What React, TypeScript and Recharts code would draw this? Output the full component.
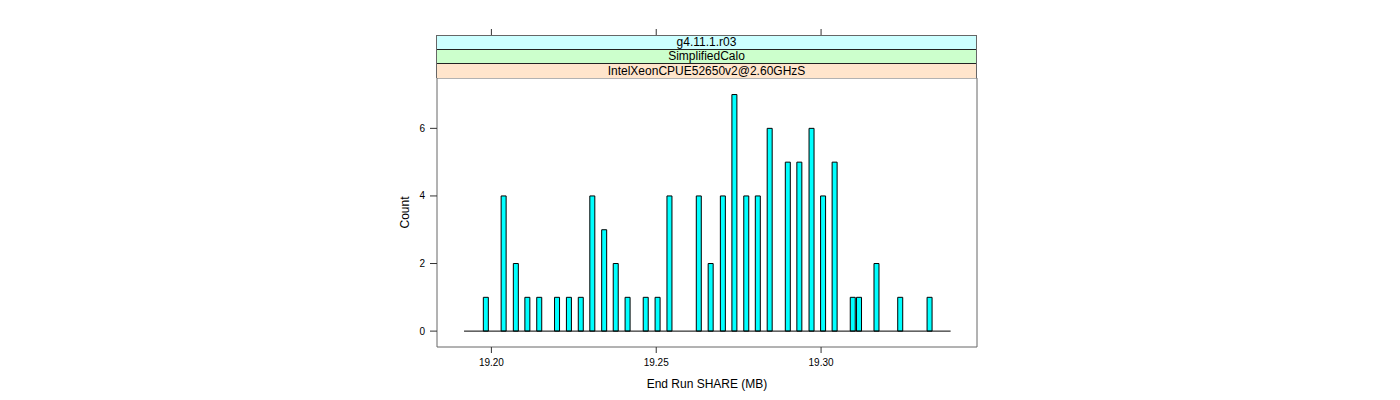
import React from 'react';
import { ComposedChart, Bar, XAxis, YAxis, ReferenceLine } from 'recharts';

// End Run SHARE (MB) values and how many runs landed on each
const shareValues = [
  19.1982, 19.2036, 19.2073, 19.2108, 19.2144, 19.2198, 19.2234, 19.227, 19.2305, 19.2341,
  19.2376, 19.2412, 19.2467, 19.2503, 19.2539, 19.2628, 19.2664, 19.2701, 19.2736, 19.2772,
  19.2807, 19.2843, 19.2898, 19.2933, 19.297, 19.3005, 19.304, 19.3095, 19.3114, 19.3167,
  19.3239, 19.3328,
];
const counts = [
  1, 4, 2, 1, 1, 1, 1, 1, 4, 3,
  2, 1, 1, 1, 4, 4, 2, 4, 7, 4,
  4, 6, 5, 5, 6, 4, 5, 1, 1, 2,
  1, 1,
];

const xTicks = [19.2, 19.25, 19.3];
const yTicks = [0, 2, 4, 6];
const xDomain = [19.1835, 19.3473];
const yDomain = [-0.47, 7.49];
const baselineRange = [19.1917, 19.3393];

const stripLabels = ['g4.11.1.r03', 'SimplifiedCalo', 'IntelXeonCPUE52650v2@2.60GHzS'];
const stripColors = ['#ccffff', '#ccffcc', '#ffe5cc'];
const stripHeights = [13, 13, 14];

const font = '"Liberation Sans", Arial, sans-serif';

const data = shareValues.map((share, i) => ({ share, count: counts[i] }));

// top axis: only the small tick marks sitting above the strips
const TopTick = (props: any) => {
  const { x, y } = props;
  return <line x1={x} x2={x} y1={y - 49} y2={y - 43} stroke="#333" />;
};

export default function App() {
  return (
    <div style={{ position: 'absolute', left: 0, top: 0, width: 1400, height: 400, background: '#fff' }}>
      <ComposedChart
        width={1400}
        height={400}
        data={data}
        margin={{ top: 38, right: 413, bottom: 23, left: 397 }}
        style={{ fontFamily: font }}
      >
        <XAxis
          xAxisId="bottom"
          dataKey="share"
          type="number"
          domain={xDomain}
          ticks={xTicks}
          tickFormatter={(v: number) => v.toFixed(2)}
          height={30}
          tickSize={6}
          tickMargin={6}
          stroke="#666"
          tick={{ fill: '#000', fontSize: 10 }}
          tickLine={{ stroke: '#333' }}
          label={{ value: 'End Run SHARE (MB)', position: 'bottom', offset: 2, fill: '#000', fontSize: 12 }}
        />
        <XAxis
          xAxisId="top"
          orientation="top"
          dataKey="share"
          type="number"
          domain={xDomain}
          ticks={xTicks}
          height={40}
          tickSize={0}
          tickMargin={0}
          stroke="#666"
          tickLine={false}
          tick={<TopTick />}
        />
        <YAxis
          yAxisId="left"
          type="number"
          domain={yDomain}
          ticks={yTicks}
          width={40}
          tickSize={7}
          tickMargin={5}
          stroke="#666"
          tick={{ fill: '#000', fontSize: 10 }}
          tickLine={{ stroke: '#333' }}
          label={{ value: 'Count', angle: -90, position: 'insideLeft', offset: 8, fill: '#000', fontSize: 12, style: { textAnchor: 'middle' } }}
        />
        <YAxis
          yAxisId="right"
          orientation="right"
          type="number"
          domain={yDomain}
          ticks={yTicks}
          width={10}
          tickSize={6}
          stroke="#666"
          tickFormatter={() => ''}
          tickLine={{ stroke: '#333' }}
        />
        <Bar
          xAxisId="bottom"
          yAxisId="left"
          dataKey="count"
          barSize={5}
          fill="#00ffff"
          stroke="#000"
          strokeWidth={1}
          isAnimationActive={false}
        />
        <ReferenceLine
          xAxisId="bottom"
          yAxisId="left"
          segment={[
            { x: baselineRange[0], y: 0 },
            { x: baselineRange[1], y: 0 },
          ]}
          stroke="#000"
        />
      </ComposedChart>

      {/* lattice strips */}
      <div
        style={{
          position: 'absolute',
          left: 436,
          top: 35,
          width: 541,
          boxSizing: 'border-box',
          borderTop: '1px solid #666',
          borderLeft: '1px solid #666',
          borderRight: '1px solid #666',
          fontFamily: font,
          fontSize: 12,
          color: '#000',
        }}
      >
        {stripLabels.map((label, i) => (
          <div
            key={label}
            style={{
              height: stripHeights[i],
              lineHeight: `${stripHeights[i]}px`,
              background: stripColors[i],
              borderTop: i > 0 ? '1px solid #222' : 'none',
              textAlign: 'center',
              whiteSpace: 'nowrap',
            }}
          >
            {label}
          </div>
        ))}
      </div>
    </div>
  );
}
